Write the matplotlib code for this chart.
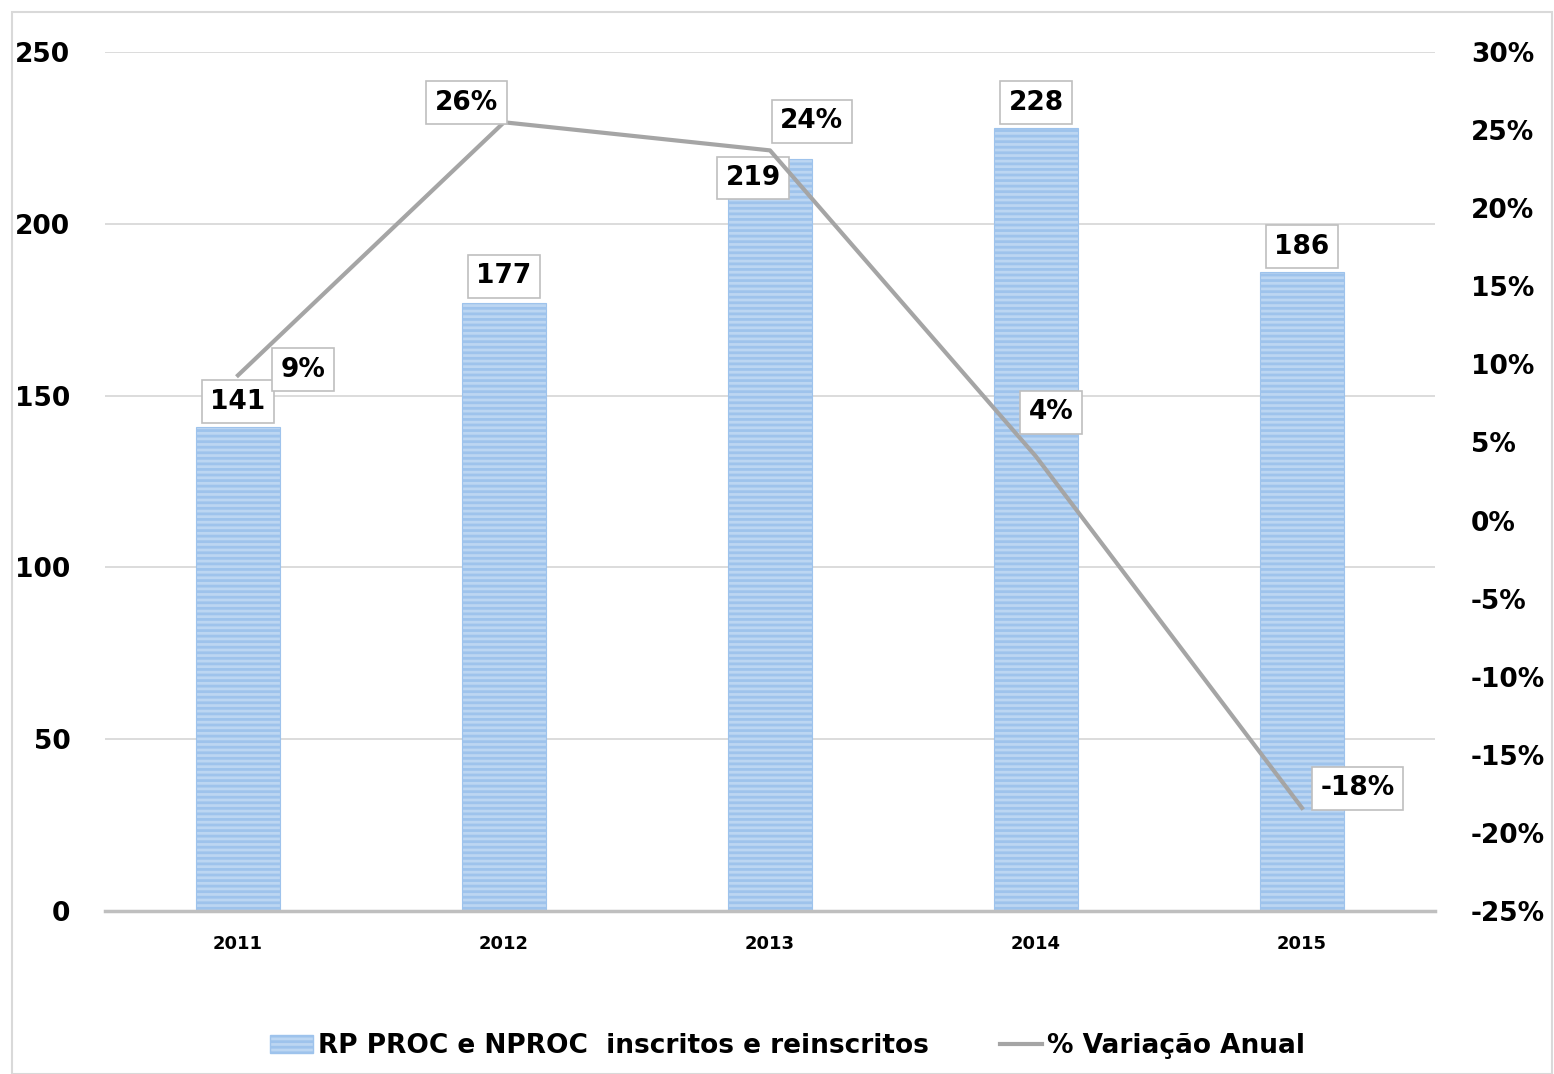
import matplotlib
matplotlib.use("Agg")
import matplotlib.pyplot as plt
from matplotlib.patches import Rectangle, Patch
from matplotlib.lines import Line2D

years = ["2011", "2012", "2013", "2014", "2015"]
values = [141, 177, 219, 228, 186]
variation = [9.3, 25.5, 23.7, 4.1, -18.4]
var_labels = ["9%", "26%", "24%", "4%", "-18%"]
bar_name = "RP PROC e NPROC  inscritos e reinscritos"
line_name = "% Variação Anual"

plt.rcParams['font.family'] = ['DejaVu Sans']
plt.rcParams['hatch.linewidth'] = 2.0
plt.rcParams['hatch.color'] = '#6A9FDA'

fig = plt.figure(figsize=(15.54, 10.74), dpi=100)
fig.patches.append(Rectangle((12/1554, 0.0), 1 - 14/1554, 1 - 12/1074, transform=fig.transFigure,
                             fill=False, edgecolor='#D9D9D9', linewidth=1.5))
ax = fig.add_axes([105/1554, 1 - 911/1074, 1330/1554, 859/1074])
ax2 = ax.twinx()

x = list(range(len(years)))
bars = ax.bar(x, values, width=0.316, color='#BCD6F2', hatch='---', edgecolor='#9EC3EC', linewidth=0.8, zorder=2)
ax.set_xlim(-0.5, len(years) - 0.5)
ax.set_ylim(0, 250)
ax.set_yticks([0, 50, 100, 150, 200, 250])
ax.grid(axis='y', color='#D9D9D9', linewidth=1.3, zorder=0)
ax.set_axisbelow(True)
for s in ['top', 'right', 'left']:
    ax.spines[s].set_visible(False)
    ax2.spines[s].set_visible(False)
ax2.spines['bottom'].set_visible(False)
ax.spines['bottom'].set_color('#BFBFBF')
ax.spines['bottom'].set_linewidth(2.5)
ax.set_xticks(x)
ax.set_xticklabels(years, fontsize=13, fontweight='bold')
ax.tick_params(axis='x', length=0, pad=17)
ax.tick_params(axis='y', length=0, pad=25, labelsize=19)
for t in ax.get_yticklabels():
    t.set_fontweight('bold')

ax2.plot(x, variation, color='#A5A5A5', linewidth=3, zorder=3)
ax2.set_ylim(-25, 30)
ax2.set_yticks(list(range(-25, 31, 5)))
ax2.set_yticklabels([f"{v}%" for v in range(-25, 31, 5)])
ax2.tick_params(axis='y', length=0, pad=26, labelsize=19)
for t in ax2.get_yticklabels():
    t.set_fontweight('bold')

box = dict(boxstyle='square,pad=0.32', facecolor='white', edgecolor='#BFBFBF', linewidth=1.2)

bar_offsets = [(0, 18), (0, 19), (-12, -14), (0, 18), (0, 18)]
for xi, v, off in zip(x, values, bar_offsets):
    ax.annotate(str(v), (xi, v), xytext=off, textcoords='offset points', ha='center', va='center',
                fontsize=19, fontweight='bold', bbox=box, zorder=5)

var_offsets = [(47, 4), (-27, 14), (30, 21), (11, 32), (40, 14)]
for xi, v, lab, off in zip(x, variation, var_labels, var_offsets):
    ax2.annotate(lab, (xi, v), xytext=off, textcoords='offset points', ha='center', va='center',
                 fontsize=19, fontweight='bold', bbox=box, zorder=6)

handles = [Patch(facecolor='#BCD6F2', hatch='---', edgecolor='#9EC3EC', label=bar_name),
           Line2D([0], [0], color='#A5A5A5', linewidth=3, label=line_name)]
fig.legend(handles=handles, loc='center', bbox_to_anchor=(0.507, 1 - 1046/1074), ncol=2, frameon=False,
           prop={'size': 19, 'weight': 'bold'}, columnspacing=2.7, handlelength=1.6, handletextpad=0.2)

fig.savefig("out.png", dpi=100)
